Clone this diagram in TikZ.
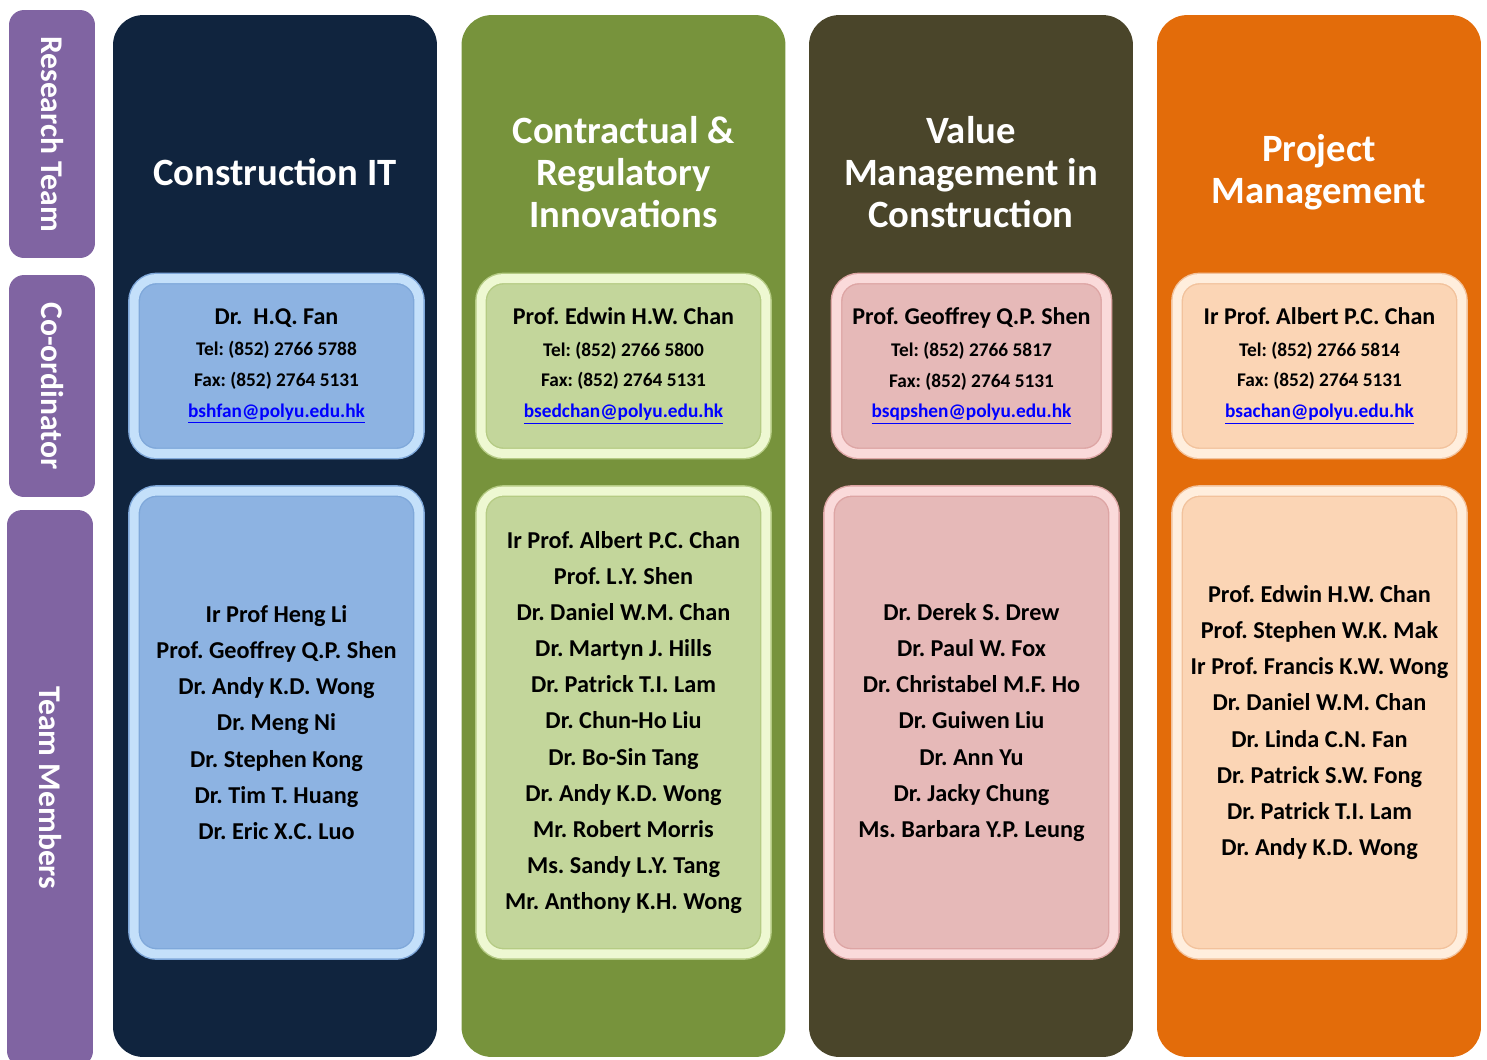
\documentclass[tikz,border=0pt]{standalone}
\usepackage{fontspec}
\setmainfont{Carlito}
\usetikzlibrary{positioning}

\definecolor{tabpurple}{HTML}{8064A2}
\definecolor{itnavy}{HTML}{10243E}
\definecolor{crgreen}{HTML}{77933C}
\definecolor{vmolive}{HTML}{4A452A}
\definecolor{pmorange}{HTML}{E36C0A}
\definecolor{itfill}{HTML}{8DB3E2}
\definecolor{itrim}{HTML}{C4E0FA}
\definecolor{itedge}{HTML}{7FA8DA}
\definecolor{crfill}{HTML}{C3D69B}
\definecolor{crrim}{HTML}{EEF8D2}
\definecolor{credge}{HTML}{B5CB84}
\definecolor{vmfill}{HTML}{E6B9B8}
\definecolor{vmrim}{HTML}{FADADA}
\definecolor{vmedge}{HTML}{DDA5A4}
\definecolor{pmfill}{HTML}{FBD5B5}
\definecolor{pmrim}{HTML}{FFEEDD}
\definecolor{pmedge}{HTML}{F2C29C}
\definecolor{linkblue}{HTML}{0000FF}

\frenchspacing

\begin{document}
\begin{tikzpicture}[
    x=0.02cm, y=-0.02cm,
    every node/.style={font=\bfseries, inner sep=0pt},
    tab/.style={
        fill=tabpurple,
        rounded corners=0.3cm,
        minimum height=1.72cm,
        rotate=-90,
        text=white,
        font=\bfseries\fontsize{18}{21}\selectfont
    },
    column/.style={
        fill=#1,
        rounded corners=0.6cm,
        minimum width=6.48cm,
        minimum height=20.84cm
    },
    heading/.style={
        text=white,
        align=center,
        font=\bfseries\fontsize{22}{23.8}\selectfont
    },
    panel/.style n args={3}{
        fill=#1,
        double=#2,
        draw=#3,
        line width=0.8pt,
        double distance=0.18cm,
        rounded corners=0.45cm,
        align=center
    },
    coordbox/.style={
        minimum width=5.7cm,
        minimum height=3.5cm,
        font=\bfseries\fontsize{11}{17.5}\selectfont
    },
    teambox/.style={
        minimum width=5.7cm,
        minimum height=9.26cm,
        font=\bfseries\fontsize{13.8}{20.6}\selectfont
    }
]
\useasboundingbox (0,0) rectangle (1487,1059);

% side tabs
\node[tab, minimum width=4.96cm] (research) at (52,134) {Research Team};
\node[tab, minimum width=4.44cm] (coordinator) at (52,386) {Co-ordinator};
\node[tab, minimum width=11.12cm] (members) at (50,788) {Team Members};

% columns
\node[column=itnavy] (constit) at (275,536) {};
\node[column=crgreen] (contract) at (623.5,536) {};
\node[column=vmolive] (valuemgmt) at (971,536) {};
\node[column=pmorange] (projmgmt) at (1319,536) {};

\node[heading] (constithead) at (275,172) {Construction IT};
\node[heading] (contracthead) at (623.5,172) {Contractual \&\\Regulatory\\Innovations};
\node[heading] (valuehead) at (971,172) {Value\\Management in\\Construction};
\node[heading] (projhead) at (1319,172) {Project\\Management};

% co-ordinators
\node[panel={itfill}{itrim}{itedge}, coordbox] (itcoord) at (276.5,366) {%
{\fontsize{13.7}{18}\selectfont Dr.\ \ H.Q. Fan}\\[0.5pt]
Tel: (852) 2766 5788\\
Fax: (852) 2764 5131\\
\textcolor{linkblue}{\underline{bshfan@polyu.edu.hk}}};
\node[panel={crfill}{crrim}{credge}, coordbox] (crcoord) at (623.5,366) {%
{\fontsize{13.7}{18}\selectfont Prof. Edwin H.W. Chan}\\[0.5pt]
Tel: (852) 2766 5800\\
Fax: (852) 2764 5131\\
\textcolor{linkblue}{\underline{bsedchan@polyu.edu.hk}}};
\node[panel={vmfill}{vmrim}{vmedge}, coordbox, minimum width=5.4cm] (vmcoord) at (971.5,366) {%
{\fontsize{13.7}{18}\selectfont Prof. Geoffrey Q.P. Shen}\\[0.5pt]
Tel: (852) 2766 5817\\
Fax: (852) 2764 5131\\
\textcolor{linkblue}{\underline{bsqpshen@polyu.edu.hk}}};
\node[panel={pmfill}{pmrim}{pmedge}, coordbox] (pmcoord) at (1319.5,366) {%
{\fontsize{13.7}{18}\selectfont Ir Prof. Albert P.C. Chan}\\[0.5pt]
Tel: (852) 2766 5814\\
Fax: (852) 2764 5131\\
\textcolor{linkblue}{\underline{bsachan@polyu.edu.hk}}};

% team members
\node[panel={itfill}{itrim}{itedge}, teambox] (itteam) at (276.5,722.5) {%
Ir Prof Heng Li\\
Prof. Geoffrey Q.P. Shen\\
Dr. Andy K.D. Wong\\
Dr. Meng Ni\\
Dr. Stephen Kong\\
Dr. Tim T. Huang\\
Dr. Eric X.C. Luo};
\node[panel={crfill}{crrim}{credge}, teambox] (crteam) at (623.5,722.5) {%
Ir Prof. Albert P.C. Chan\\
Prof. L.Y. Shen\\
Dr. Daniel W.M. Chan\\
Dr. Martyn J. Hills\\
Dr. Patrick T.I. Lam\\
Dr. Chun-Ho Liu\\
Dr. Bo-Sin Tang\\
Dr. Andy K.D. Wong\\
Mr. Robert Morris\\
Ms. Sandy L.Y. Tang\\
Mr. Anthony K.H. Wong};
\node[panel={vmfill}{vmrim}{vmedge}, teambox] (vmteam) at (971.5,722.5) {%
Dr. Derek S. Drew\\
Dr. Paul W. Fox\\
Dr. Christabel M.F. Ho\\
Dr. Guiwen Liu\\
Dr. Ann Yu\\
Dr. Jacky Chung\\
Ms. Barbara Y.P. Leung};
\node[panel={pmfill}{pmrim}{pmedge}, teambox] (pmteam) at (1319.5,722.5) {%
Prof. Edwin H.W. Chan\\
Prof. Stephen W.K. Mak\\
Ir Prof. Francis K.W. Wong\\
Dr. Daniel W.M. Chan\\
Dr. Linda C.N. Fan\\
Dr. Patrick S.W. Fong\\
Dr. Patrick T.I. Lam\\
Dr. Andy K.D. Wong};

\end{tikzpicture}
\end{document}
